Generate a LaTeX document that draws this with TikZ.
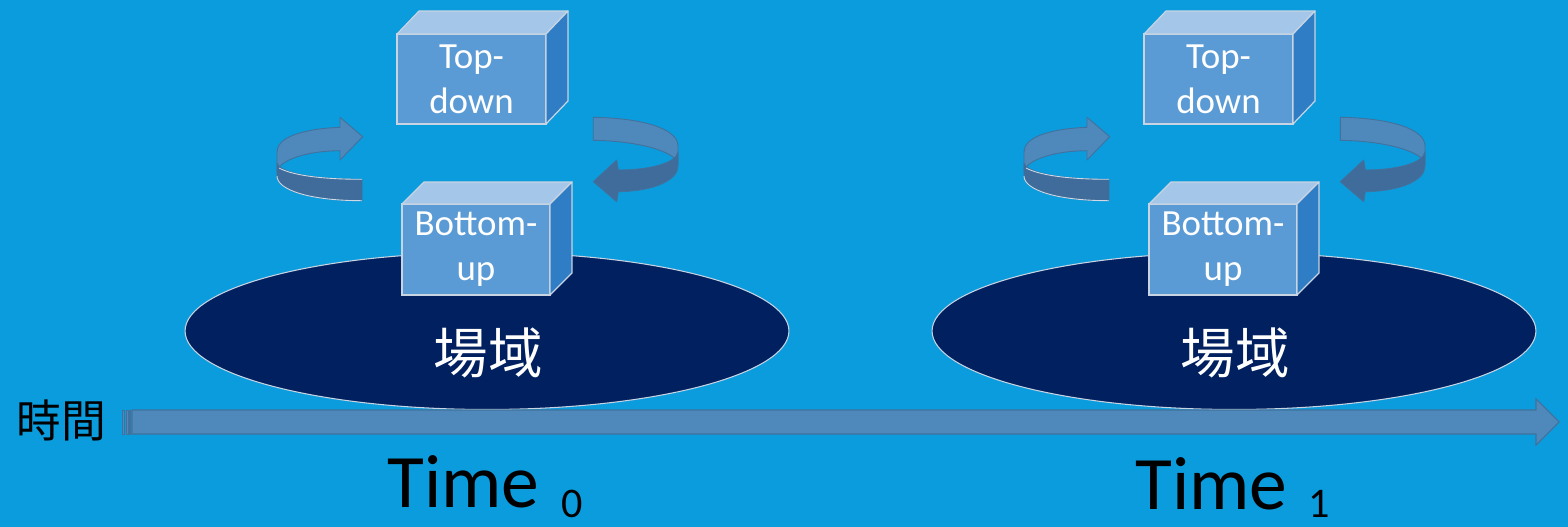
\documentclass[tikz,border=0pt]{standalone}
\usepackage{fontspec}
\setmainfont{Carlito}
\newfontfamily\cjk{Noto Sans CJK TC}
\usetikzlibrary{shapes.geometric}
\definecolor{bg}{RGB}{11,156,222}
\definecolor{fieldc}{RGB}{0,32,96}
\definecolor{cubefront}{RGB}{91,155,213}
\definecolor{cubetop}{RGB}{164,198,232}
\definecolor{cubeside}{RGB}{47,125,197}
\definecolor{cubeedge}{RGB}{200,212,226}
\definecolor{arrowlight}{RGB}{79,136,187}
\definecolor{arrowdark}{RGB}{63,108,155}
\definecolor{arrowline}{RGB}{65,113,156}
\begin{document}
\begin{tikzpicture}[x=0.02cm,y=-0.02cm,
  cubeface/.style={fill=cubefront, draw=cubeedge, line width=0.7pt, inner sep=0pt, outer sep=0pt,
    text=white, align=center, font=\fontsize{21}{25.5}\selectfont},
  cubetopface/.style={fill=cubetop, draw=cubeedge, line width=0.7pt, line join=round},
  cubesideface/.style={fill=cubeside, draw=cubeedge, line width=0.7pt, line join=round},
  fieldshape/.style={ellipse, fill=fieldc, draw=cubeedge, line width=0.6pt,
    minimum width=12.08cm, minimum height=3.14cm, inner sep=0pt},
  fieldtext/.style={text=white, font=\cjk\fontsize{31}{36}\selectfont, inner sep=0pt},
  ribbonback/.style={fill=arrowlight, draw=arrowline, line width=0.5pt, line join=round},
  ribbonfront/.style={fill=arrowdark, draw=arrowline, line width=0.5pt, line join=round},
  timearrow/.style={fill=arrowlight, draw=arrowline, line width=0.6pt, line join=miter},
  timebar/.style={fill=arrowlight, draw=arrowline, line width=0.25pt},
  bigtime/.style={anchor=base west, inner sep=0pt, font=\fontsize{43}{50}\selectfont},
  subtime/.style={anchor=base west, inner sep=0pt, font=\fontsize{24}{28}\selectfont}
]
\useasboundingbox (0,0) rectangle (1568,527);
\fill[bg] (0,0) rectangle (1568,527);

\foreach \s/\n in {0/L,747/R}{
\begin{scope}[shift={(\s,0)}]
  % field ellipse
  \node[fieldshape] (field\n) at (487,331) {};
  \node[fieldtext] (fieldtxt\n) at (488,353) {場域};
  % top-down cube
  \node[cubeface, minimum width=2.98cm, minimum height=1.8cm] (td\n) at (471.5,79) {Top-\\down};
  \draw[cubetopface] (td\n.north west) -- ([shift={(22,-23)}]td\n.north west) -- ([shift={(22,-23)}]td\n.north east) -- (td\n.north east) -- cycle;
  \draw[cubesideface] (td\n.north east) -- ([shift={(22,-23)}]td\n.north east) -- ([shift={(22,-23)}]td\n.south east) -- (td\n.south east) -- cycle;
  % bottom-up cube
  \node[cubeface, minimum width=2.96cm, minimum height=1.82cm] (bu\n) at (476,249.5) {Bottom-\\up};
  \draw[cubetopface] (bu\n.north west) -- ([shift={(22,-22)}]bu\n.north west) -- ([shift={(22,-22)}]bu\n.north east) -- (bu\n.north east) -- cycle;
  \draw[cubesideface] (bu\n.north east) -- ([shift={(22,-22)}]bu\n.north east) -- ([shift={(22,-22)}]bu\n.south east) -- (bu\n.south east) -- cycle;
  % left circular arrow (upward)
  \draw[ribbonback] (340,127.3) .. controls (300,129) and (277,138) .. (277,152) -- (277,172)
     .. controls (277,163) and (300,151) .. (340,150.7) -- (340,160) -- (362.7,136.7) -- (340,117.3) -- cycle;
  \draw[ribbonfront] (277,163) .. controls (279,172) and (310,179.3) .. (362,179.3) -- (362,200.7)
     .. controls (310,200.7) and (277,190) .. (277,176) -- cycle;
  \draw[white!75!arrowdark, line width=0.5pt] (279,168) .. controls (290,174) and (315,179.3) .. (362,179.3);
  \draw[white!75!arrowdark, line width=0.5pt] (277,176) .. controls (277,190) and (310,200.7) .. (362,200.7);
  % right circular arrow (downward)
  \draw[ribbonback] (593.3,117.3) .. controls (640,118) and (678,128) .. (678,146) -- (678,164)
     .. controls (676,152) and (640,141) .. (593.3,140.3) -- cycle;
  \draw[ribbonfront] (678,152) .. controls (676,163) and (650,170) .. (618.3,170) -- (616.7,160)
     -- (593.3,181.7) -- (616.7,201.7) -- (618.3,191.7) .. controls (655,191) and (678,180) .. (678,166) -- cycle;
\end{scope}
}

% time axis
\draw[timearrow] (132,410) -- (1536,410) -- (1536,399) -- (1559,422) -- (1536,445) -- (1536,434) -- (132,434) -- cycle;
\draw[timebar] (122,410) rectangle (124,434);
\draw[timebar] (126,410) rectangle (128,434);
\draw[timebar] (129.3,410) rectangle (130.7,434);

\node[font=\cjk\fontsize{25.5}{30}\selectfont, inner sep=0pt] (timeword) at (61.5,420) {時間};

\node[bigtime] (time0) at (387,507) {Time};
\node[subtime] (sub0) at (561,517) {0};
\node[bigtime] (time1) at (1135,509) {Time};
\node[subtime] (sub1) at (1308,517) {1};
\end{tikzpicture}
\end{document}
